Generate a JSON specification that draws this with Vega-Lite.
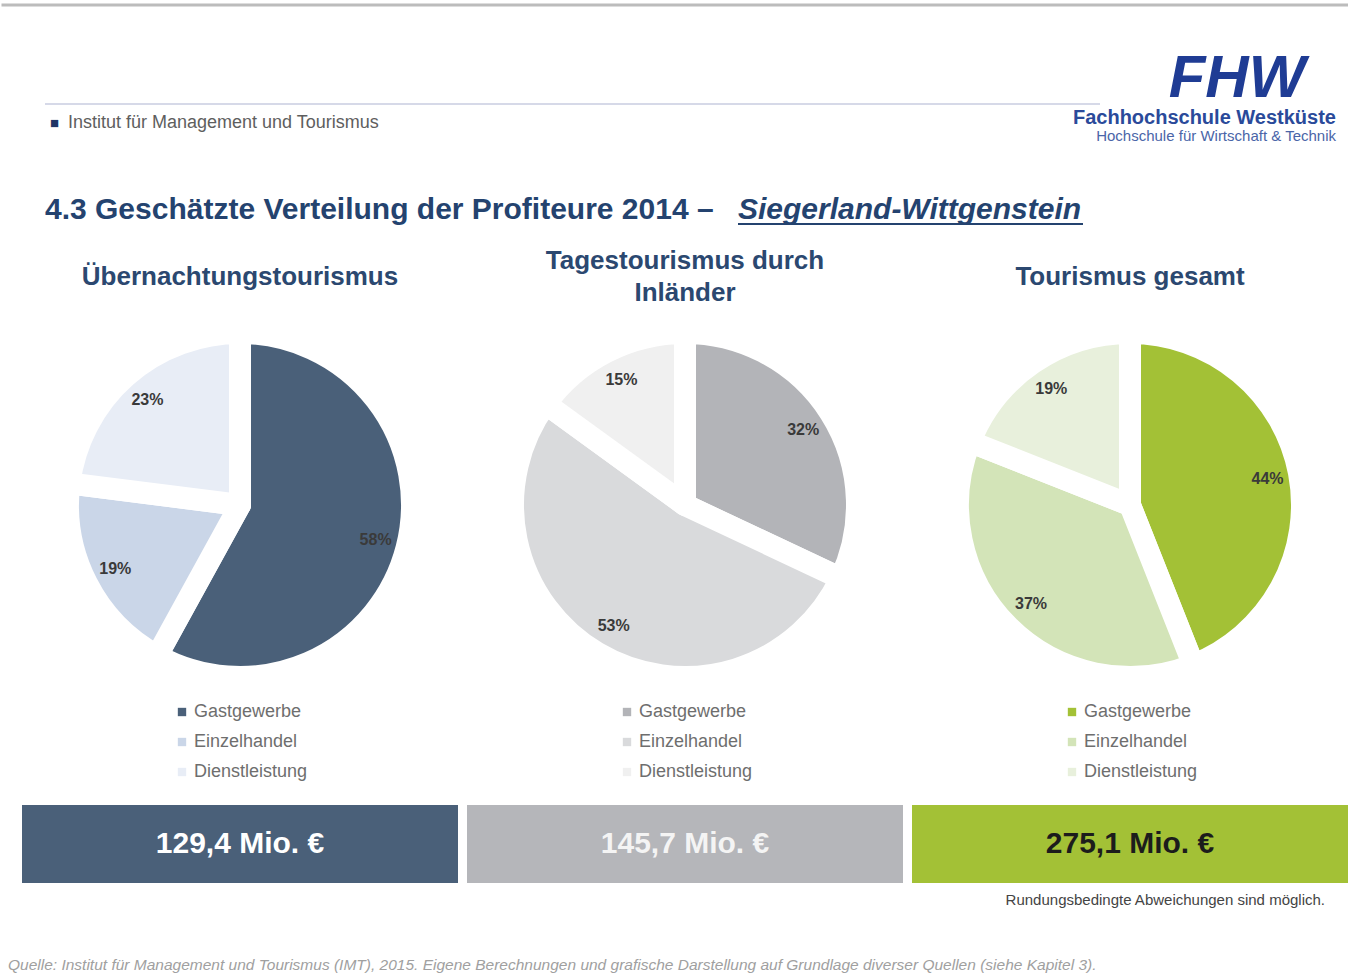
{
  "$schema": "https://vega.github.io/schema/vega-lite/v6.json",
  "background": "white",
  "padding": {"left": 0, "right": 0, "top": 0, "bottom": 0},
  "config": {
    "view": {"stroke": null},
    "font": "Liberation Sans",
    "legend": {"layout": {"bottom": {"anchor": "middle"}}}
  },
  "title": {
    "text": "Quelle: Institut für Management und Tourismus (IMT), 2015. Eigene Berechnungen und grafische Darstellung auf Grundlage diverser Quellen (siehe Kapitel 3).",
    "orient": "bottom", "anchor": "start", "frame": "group", "dx": -14, "offset": 50,
    "fontSize": 15.5, "fontStyle": "italic", "fontWeight": "normal", "color": "#a0a0a0"
  },
  "spacing": 0,
  "vconcat": [
    {
      "width": 1326, "height": 232,
      "data": {"values": [{}]},
      "layer": [
        {"mark": {"type": "rule", "color": "#bcbcbc", "strokeWidth": 3},
         "encoding": {"x": {"value": -20.5}, "x2": {"value": 1326}, "y": {"value": 5}}},
        {"mark": {"type": "rule", "color": "#c9cce0", "strokeWidth": 1.5},
         "encoding": {"x": {"value": 23}, "x2": {"value": 1078}, "y": {"value": 104}}},
        {"mark": {"type": "text", "text": "■", "align": "left", "baseline": "middle", "fontSize": 15, "color": "#1f3566"},
         "encoding": {"x": {"value": 28}, "y": {"value": 123}}},
        {"mark": {"type": "text", "text": "Institut für Management und Tourismus", "align": "left", "baseline": "middle", "fontSize": 18, "color": "#5e5e5e"},
         "encoding": {"x": {"value": 46}, "y": {"value": 123}}},
        {"mark": {"type": "text", "text": "FHW", "align": "center", "baseline": "alphabetic", "fontSize": 60, "fontWeight": "bold", "fontStyle": "italic", "color": "#1f3c94"},
         "encoding": {"x": {"value": 1215}, "y": {"value": 97}}},
        {"mark": {"type": "text", "text": "Fachhochschule Westküste", "align": "right", "baseline": "alphabetic", "fontSize": 20, "fontWeight": "bold", "color": "#2a4a9a"},
         "encoding": {"x": {"value": 1314}, "y": {"value": 124}}},
        {"mark": {"type": "text", "text": "Hochschule für Wirtschaft & Technik", "align": "right", "baseline": "alphabetic", "fontSize": 15, "color": "#4a65a8"},
         "encoding": {"x": {"value": 1314}, "y": {"value": 141}}},
        {"mark": {"type": "text", "text": "4.3 Geschätzte Verteilung der Profiteure 2014 – ", "align": "left", "baseline": "alphabetic", "fontSize": 30, "fontWeight": "bold", "color": "#24436f"},
         "encoding": {"x": {"value": 23}, "y": {"value": 219}}},
        {"mark": {"type": "text", "text": "Siegerland-Wittgenstein", "align": "left", "baseline": "alphabetic", "fontSize": 30, "fontWeight": "bold", "fontStyle": "italic", "color": "#24436f"},
         "encoding": {"x": {"value": 716}, "y": {"value": 219}}},
        {"mark": {"type": "rule", "color": "#24436f", "strokeWidth": 2},
         "encoding": {"x": {"value": 716}, "x2": {"value": 1061}, "y": {"value": 224}}}
      ]
    },
    {
      "spacing": 9,
      "hconcat": [
        {"width": 436, "height": 90, "data": {"values": [{}]},
         "mark": {"type": "text", "text": "Übernachtungstourismus", "fontSize": 26, "fontWeight": "bold", "color": "#2b4870", "baseline": "middle", "lineHeight": 32}},
        {"width": 436, "height": 90, "data": {"values": [{}]},
         "mark": {"type": "text", "text": ["Tagestourismus durch", "Inländer"], "fontSize": 26, "fontWeight": "bold", "color": "#2b4870", "baseline": "middle", "lineHeight": 32, "dy": -16}},
        {"width": 436, "height": 90, "data": {"values": [{}]},
         "mark": {"type": "text", "text": "Tourismus gesamt", "fontSize": 26, "fontWeight": "bold", "color": "#2b4870", "baseline": "middle", "lineHeight": 32}}
      ]
    },
    {
      "spacing": 24,
      "resolve": {"scale": {"color": "independent"}},
      "vconcat": [
        {
          "spacing": 9,
          "resolve": {"scale": {"color": "independent"}},
          "hconcat": [
            {
              "width": 436, "height": 360,
              "data": {"values": [
                {"sektor": "Gastgewerbe", "nr": 1, "anteil": 0.58},
                {"sektor": "Einzelhandel", "nr": 2, "anteil": 0.19},
                {"sektor": "Dienstleistung", "nr": 3, "anteil": 0.23}
              ]},
              "encoding": {
                "theta": {"field": "anteil", "type": "quantitative", "stack": true},
                "order": {"field": "nr", "type": "quantitative"},
                "color": {"field": "sektor", "type": "nominal",
                  "scale": {"domain": ["Gastgewerbe", "Einzelhandel", "Dienstleistung"], "range": ["#4a6079", "#cad6e8", "#e8edf6"]},
                  "legend": {"orient": "bottom", "direction": "vertical", "title": null, "offset": 18, "symbolType": "square", "symbolSize": 70, "symbolStrokeWidth": 0, "labelFontSize": 18, "labelColor": "#6e6e6e", "rowPadding": 12, "labelOffset": 3}}
              },
              "layer": [
                {"mark": {"type": "arc", "outerRadius": 172, "stroke": "white", "strokeWidth": 22, "strokeJoin": "round"}},
                {"mark": {"type": "text", "radius": 140, "fontSize": 16, "fontWeight": "bold"},
                 "encoding": {"text": {"field": "anteil", "type": "quantitative", "format": ".0%"}, "color": {"value": "#3a3a3a"}}}
              ]
            },
            {
              "width": 436, "height": 360,
              "data": {"values": [
                {"sektor": "Gastgewerbe", "nr": 1, "anteil": 0.32},
                {"sektor": "Einzelhandel", "nr": 2, "anteil": 0.53},
                {"sektor": "Dienstleistung", "nr": 3, "anteil": 0.15}
              ]},
              "encoding": {
                "theta": {"field": "anteil", "type": "quantitative", "stack": true},
                "order": {"field": "nr", "type": "quantitative"},
                "color": {"field": "sektor", "type": "nominal",
                  "scale": {"domain": ["Gastgewerbe", "Einzelhandel", "Dienstleistung"], "range": ["#b3b4b8", "#d9dadc", "#f0f0f0"]},
                  "legend": {"orient": "bottom", "direction": "vertical", "title": null, "offset": 18, "symbolType": "square", "symbolSize": 70, "symbolStrokeWidth": 0, "labelFontSize": 18, "labelColor": "#6e6e6e", "rowPadding": 12, "labelOffset": 3}}
              },
              "layer": [
                {"mark": {"type": "arc", "outerRadius": 172, "stroke": "white", "strokeWidth": 22, "strokeJoin": "round"}},
                {"mark": {"type": "text", "radius": 140, "fontSize": 16, "fontWeight": "bold"},
                 "encoding": {"text": {"field": "anteil", "type": "quantitative", "format": ".0%"}, "color": {"value": "#3a3a3a"}}}
              ]
            },
            {
              "width": 436, "height": 360,
              "data": {"values": [
                {"sektor": "Gastgewerbe", "nr": 1, "anteil": 0.44},
                {"sektor": "Einzelhandel", "nr": 2, "anteil": 0.37},
                {"sektor": "Dienstleistung", "nr": 3, "anteil": 0.19}
              ]},
              "encoding": {
                "theta": {"field": "anteil", "type": "quantitative", "stack": true},
                "order": {"field": "nr", "type": "quantitative"},
                "color": {"field": "sektor", "type": "nominal",
                  "scale": {"domain": ["Gastgewerbe", "Einzelhandel", "Dienstleistung"], "range": ["#a3c136", "#d3e4b8", "#e8f0dc"]},
                  "legend": {"orient": "bottom", "direction": "vertical", "title": null, "offset": 18, "symbolType": "square", "symbolSize": 70, "symbolStrokeWidth": 0, "labelFontSize": 18, "labelColor": "#6e6e6e", "rowPadding": 12, "labelOffset": 3}}
              },
              "layer": [
                {"mark": {"type": "arc", "outerRadius": 172, "stroke": "white", "strokeWidth": 22, "strokeJoin": "round"}},
                {"mark": {"type": "text", "radius": 140, "fontSize": 16, "fontWeight": "bold"},
                 "encoding": {"text": {"field": "anteil", "type": "quantitative", "format": ".0%"}, "color": {"value": "#3a3a3a"}}}
              ]
            }
          ]
        },
        {
          "spacing": 9,
          "hconcat": [
            {"width": 436, "height": 78,
             "data": {"values": [{"bereich": "Übernachtungstourismus", "summe": 129.4, "label": "129,4 Mio. €"}]},
             "layer": [
               {"mark": {"type": "rect", "color": "#4a6079"}, "encoding": {}},
               {"mark": {"type": "text", "fontSize": 30, "fontWeight": "bold", "color": "#ffffff"}, "encoding": {"text": {"field": "label", "type": "nominal"}}}
             ]},
            {"width": 436, "height": 78,
             "data": {"values": [{"bereich": "Tagestourismus durch Inländer", "summe": 145.7, "label": "145,7 Mio. €"}]},
             "layer": [
               {"mark": {"type": "rect", "color": "#b5b6ba"}, "encoding": {}},
               {"mark": {"type": "text", "fontSize": 30, "fontWeight": "bold", "color": "#f4f4f4"}, "encoding": {"text": {"field": "label", "type": "nominal"}}}
             ]},
            {"width": 436, "height": 78,
             "title": {"text": "Rundungsbedingte Abweichungen sind möglich.", "orient": "bottom", "anchor": "end", "dx": -23, "offset": 10, "fontSize": 15, "fontWeight": "normal", "color": "#444444"},
             "data": {"values": [{"bereich": "Tourismus gesamt", "summe": 275.1, "label": "275,1 Mio. €"}]},
             "layer": [
               {"mark": {"type": "rect", "color": "#a3c136"}, "encoding": {}},
               {"mark": {"type": "text", "fontSize": 30, "fontWeight": "bold", "color": "#1c1c1c"}, "encoding": {"text": {"field": "label", "type": "nominal"}}}
             ]}
          ]
        }
      ]
    }
  ]
}
